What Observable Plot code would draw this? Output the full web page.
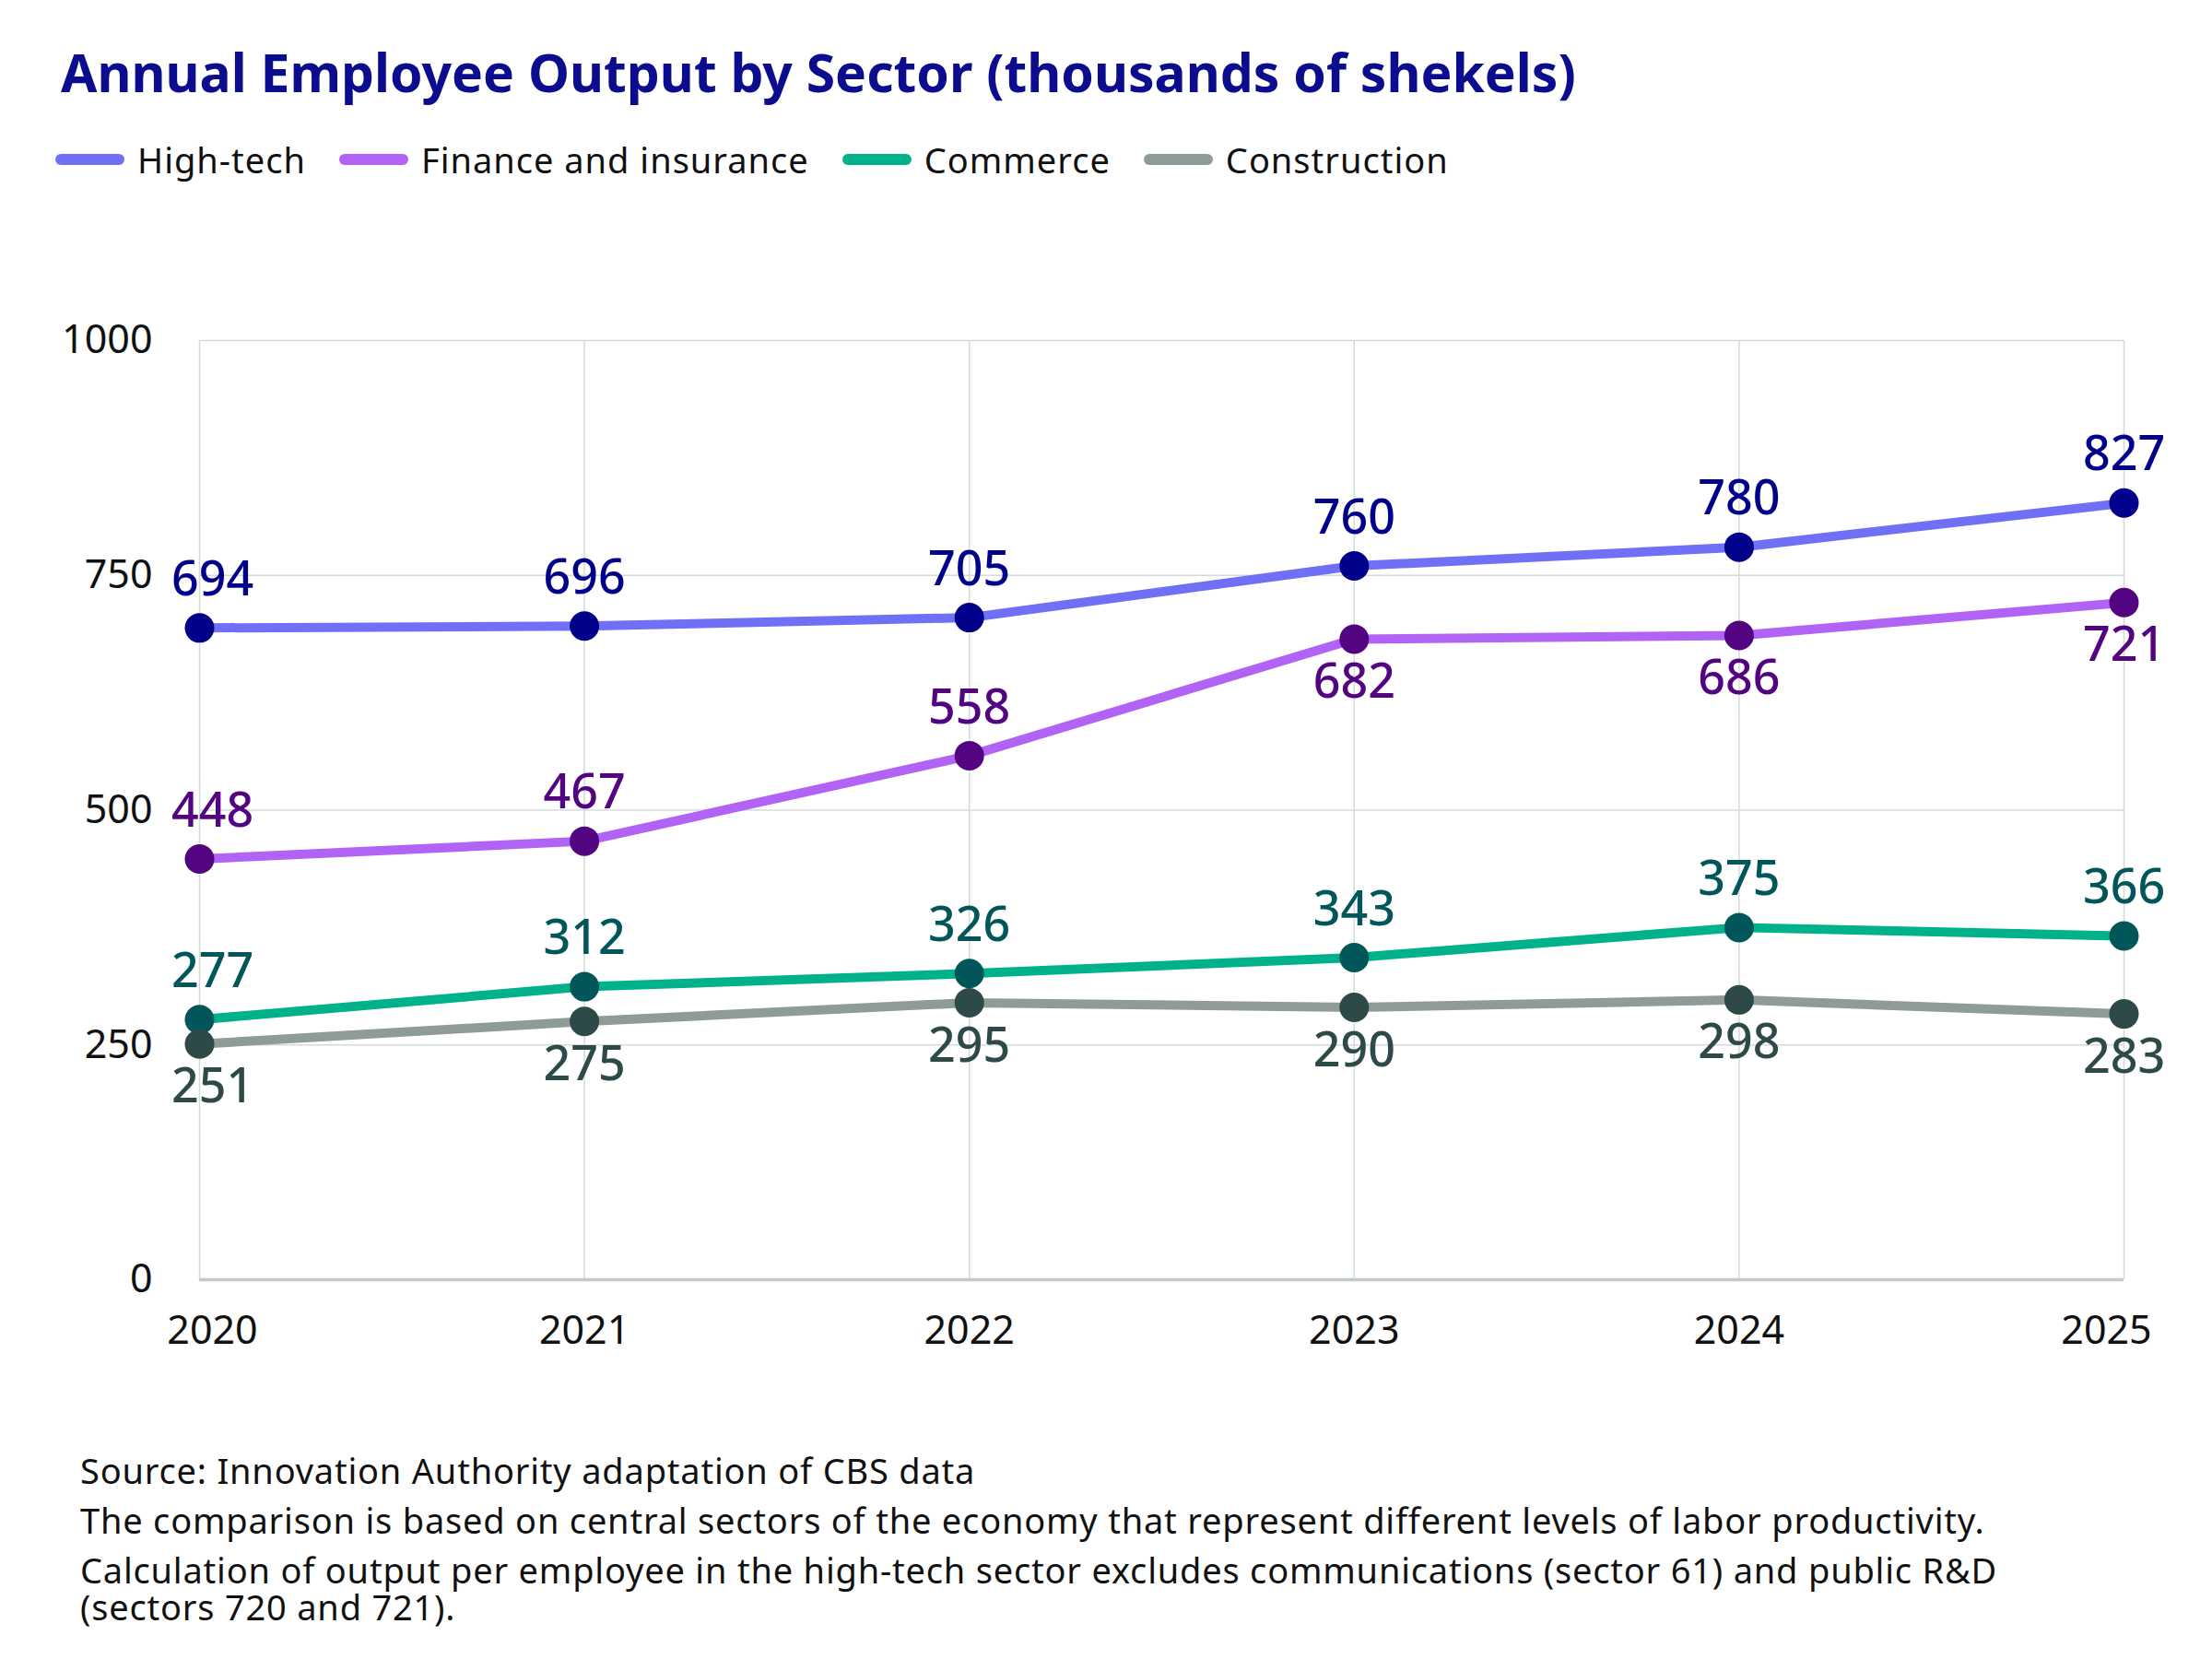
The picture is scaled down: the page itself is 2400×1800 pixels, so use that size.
<!DOCTYPE html>
<html>
<head>
<meta charset="utf-8">
<script src="https://cdn.jsdelivr.net/npm/d3@7"></script>
<script src="https://cdn.jsdelivr.net/npm/@observablehq/plot@0.6"></script>
<style>
  html, body { margin: 0; padding: 0; background: #ffffff; }
  #wrap { position: relative; width: 2400px; height: 1800px; background: #fff; font-family: "Noto Sans", Lato, sans-serif; }
  #title { position: absolute; left: 66px; top: 44px; font-size: 57px; line-height: 1.2; font-weight: 700; color: #0c0c8e; white-space: nowrap; }
  #legend { position: absolute; left: 60px; top: 148px; height: 50px; display: flex; align-items: center; font-size: 38px; letter-spacing: 1px; color: #111; }
  .item { display: flex; align-items: center; margin-right: 36px; }
  .sw { width: 75px; height: 12px; border-radius: 6px; margin-right: 14px; }
  #chart { position: absolute; left: 0; top: 220px; }
  #foot { position: absolute; left: 87px; top: 1568px; font-size: 38px; letter-spacing: 0.8px; color: #111; line-height: 54px; white-space: nowrap; }
  #foot .tight { line-height: 26px; }
</style>
</head>
<body>
<div id="wrap">
  <div id="title"></div>
  <div id="legend"></div>
  <div id="chart"></div>
  <div id="foot"></div>
</div>
<script>
const titleText = "Annual Employee Output by Sector (thousands of shekels)";
const years = [2020, 2021, 2022, 2023, 2024, 2025];
const seriesNames = ["High-tech", "Finance and insurance", "Commerce", "Construction"];
const highTech = [694, 696, 705, 760, 780, 827];
const finance = [448, 467, 558, 682, 686, 721];
const commerce = [277, 312, 326, 343, 375, 366];
const construction = [251, 275, 295, 290, 298, 283];
const yTicks = [0, 250, 500, 750, 1000];
const footLines = [
  "Source: Innovation Authority adaptation of CBS data",
  "The comparison is based on central sectors of the economy that represent different levels of labor productivity.",
  "Calculation of output per employee in the high-tech sector excludes communications (sector 61) and public R&D",
  "(sectors 720 and 721)."
];

const lineColors = ["#7070f6", "#b063f4", "#00b28a", "#8e9b98"];
const dotColors = ["#00008a", "#530481", "#01565a", "#2e4a48"];
const valuesList = [highTech, finance, commerce, construction];

document.getElementById("title").textContent = titleText;

const legend = document.getElementById("legend");
seriesNames.forEach((n, i) => {
  const it = document.createElement("div"); it.className = "item";
  const sw = document.createElement("div"); sw.className = "sw"; sw.style.background = lineColors[i];
  const tx = document.createElement("span"); tx.textContent = n;
  it.appendChild(sw); it.appendChild(tx); legend.appendChild(it);
});

const foot = document.getElementById("foot");
footLines.forEach((t, i) => {
  const d = document.createElement("div"); d.textContent = t;
  if (i === 3) d.className = "tight";
  foot.appendChild(d);
});

// label above unless the series sits close under the one above it
function labelBelow(si, i) {
  if (si === 3) return true;
  if (si === 1) return highTech[i] - finance[i] < 120;
  return false;
}

const firstYear = years[0], lastYear = years[years.length - 1];
const xAxisOpts = {tickSize: 0, tickPadding: 39, fontSize: 43, tickFormat: d => String(d), label: null, fill: "#111"};

const marks = [
  Plot.gridX(years, {stroke: "#d4dada", strokeOpacity: 1, strokeWidth: 1.5}),
  Plot.gridY(yTicks, {stroke: "#d4dada", strokeOpacity: 1, strokeWidth: 1.5}),
  Plot.ruleY([0], {stroke: "#c3caca", strokeWidth: 3.5}),
  Plot.axisX({...xAxisOpts, ticks: years.slice(1, -1)}),
  Plot.axisX({...xAxisOpts, ticks: [firstYear], dx: 14}),
  Plot.axisX({...xAxisOpts, ticks: [lastYear], dx: -19}),
  Plot.axisY({ticks: yTicks, tickSize: 0, tickPadding: 51, fontSize: 43, tickFormat: d => String(d), label: null, fill: "#111"})
];

valuesList.forEach((vals, si) => {
  const rows = vals.map((v, i) => ({year: years[i], value: v, i}));
  marks.push(Plot.line(rows, {x: "year", y: "value", stroke: lineColors[si], strokeWidth: 10, strokeLinecap: "round"}));
});
valuesList.forEach((vals, si) => {
  const rows = vals.map((v, i) => ({year: years[i], value: v, i}));
  marks.push(Plot.dot(rows, {x: "year", y: "value", r: 16, fill: dotColors[si], stroke: null}));
  const textOpts = {x: "year", y: "value", text: d => String(d.value), fill: dotColors[si], fontSize: 52, fontWeight: 500};
  [[false, -52], [true, 47]].forEach(([below, dy]) => {
    const sel = rows.filter(d => labelBelow(si, d.i) === below);
    marks.push(Plot.text(sel.filter(d => d.i > 0), {...textOpts, dy}));
    marks.push(Plot.text(sel.filter(d => d.i === 0), {...textOpts, dy, dx: 14}));
  });
});

const chart = Plot.plot({
  width: 2400,
  height: 1300,
  marginTop: 149,
  marginBottom: 132,
  marginLeft: 216,
  marginRight: 96,
  x: {type: "linear", domain: [2020, 2025]},
  y: {domain: [0, 1000]},
  style: {fontFamily: "'Noto Sans', Lato, sans-serif", background: "white", overflow: "visible"},
  marks
});
document.getElementById("chart").appendChild(chart);
</script>
</body>
</html>
